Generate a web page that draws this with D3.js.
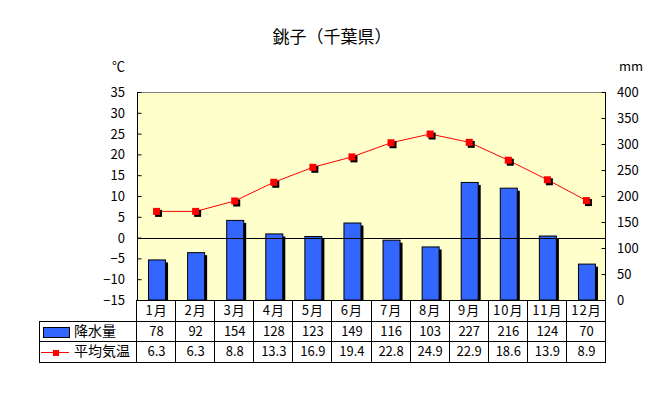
<!DOCTYPE html>
<html lang="ja">
<head>
<meta charset="utf-8" />
<script src="https://cdn.jsdelivr.net/npm/d3@7"></script>
<style>
  body { margin: 0; background: #fff; }
  svg { display: block; }
  text { font-family: "Noto Sans CJK JP", sans-serif; font-size: 13px; fill: #000; }
</style>
</head>
<body>
<script>
// data
var months = ["1月","2月","3月","4月","5月","6月","7月","8月","9月","10月","11月","12月"];
var rain = [78, 92, 154, 128, 123, 149, 116, 103, 227, 216, 124, 70];
var temp = [6.3, 6.3, 8.8, 13.3, 16.9, 19.4, 22.8, 24.9, 22.9, 18.6, 13.9, 8.9];
var tempTicks = [-15, -10, -5, 0, 5, 10, 15, 20, 25, 30, 35];
var rainTicks = [0, 50, 100, 150, 200, 250, 300, 350, 400];

var W = 658, H = 399;
var pL = 137, pR = 606, pT = 92, pB = 300;
var rowH = [21, 20, 21]; // category row, rain row, temp row
var legendLeft = 39;

var svg = d3.select("body").append("svg").attr("width", W).attr("height", H);

var x = d3.scaleBand().domain(months).range([pL, pR]);
var yT = d3.scaleLinear().domain([-15, 35]).range([pB, pT]);
var yR = d3.scaleLinear().domain([0, 400]).range([pB, pT]);

// plot background
svg.append("rect").attr("x", pL).attr("y", pT)
  .attr("width", pR - pL).attr("height", pB - pT).attr("fill", "#ffffcc");
svg.append("line").attr("x1", pL).attr("x2", pR).attr("y1", pT + 0.5).attr("y2", pT + 0.5)
  .attr("stroke", "#808080");

// axes, ticks inside
var axL = svg.append("g").attr("transform", "translate(" + (pL + 0.5) + ",0)")
  .call(d3.axisRight(yT).tickValues(tempTicks).tickSize(4).tickFormat(""));
axL.selectAll("path,line").attr("stroke", "#000");
axL.select(".domain").attr("d", "M0," + pT + "V" + pB);
var axR = svg.append("g").attr("transform", "translate(" + (pR - 0.5) + ",0)")
  .call(d3.axisLeft(yR).tickValues(rainTicks).tickSize(4).tickFormat(""));
axR.selectAll("path,line").attr("stroke", "#000");
axR.select(".domain").attr("d", "M0," + pT + "V" + pB);

svg.selectAll(".tl").data(tempTicks).enter().append("text")
  .attr("x", 125).attr("y", function (d) { return yT(d) + 5; })
  .attr("text-anchor", "end")
  .text(function (d) { return d < 0 ? "\u2212" + Math.abs(d) : d; });
svg.selectAll(".tr").data(rainTicks).enter().append("text")
  .attr("x", 617).attr("y", function (d) { return yR(d) + 5; })
  .text(function (d) { return d; });

svg.append("text").attr("x", 112).attr("y", 71).text("℃");
svg.append("text").attr("x", 619).attr("y", 71).text("mm");
svg.append("text").attr("x", 332).attr("y", 43).attr("text-anchor", "middle")
  .style("font-size", "17px").text("銚子（千葉県）");

// bars with shadow
var bw = 17;
svg.selectAll(".bs").data(rain).enter().append("rect")
  .attr("x", function (d, i) { return x(months[i]) + x.bandwidth() / 2 - bw / 2 + 3; })
  .attr("y", function (d) { return yR(d) + 3; })
  .attr("width", bw).attr("height", function (d) { return pB - yR(d) - 3; })
  .attr("fill", "#000");
svg.selectAll(".b").data(rain).enter().append("rect")
  .attr("x", function (d, i) { return x(months[i]) + x.bandwidth() / 2 - bw / 2 + 0.5; })
  .attr("y", function (d) { return yR(d) + 0.5; })
  .attr("width", bw).attr("height", function (d) { return pB - yR(d) - 0.5; })
  .attr("fill", "#3366ff").attr("stroke", "#000").attr("stroke-width", 1);

// zero line
svg.append("line").attr("x1", pL).attr("x2", pR)
  .attr("y1", Math.round(yT(0)) + 0.5).attr("y2", Math.round(yT(0)) + 0.5)
  .attr("stroke", "#000");

// temperature line
var line = d3.line()
  .x(function (d, i) { return x(months[i]) + x.bandwidth() / 2; })
  .y(function (d) { return yT(d); });
svg.append("path").datum(temp).attr("d", line)
  .attr("fill", "none").attr("stroke", "#ff0000").attr("stroke-width", 1);
var ms = 7;
svg.selectAll(".ms").data(temp).enter().append("rect")
  .attr("x", function (d, i) { return x(months[i]) + x.bandwidth() / 2 - ms / 2 + 2; })
  .attr("y", function (d) { return yT(d) - ms / 2 + 2; })
  .attr("width", ms).attr("height", ms).attr("fill", "#000");
svg.selectAll(".m").data(temp).enter().append("rect")
  .attr("x", function (d, i) { return x(months[i]) + x.bandwidth() / 2 - ms / 2; })
  .attr("y", function (d) { return yT(d) - ms / 2; })
  .attr("width", ms).attr("height", ms).attr("fill", "#ff0000");

// data table
var y0 = pB, y1 = y0 + rowH[0], y2 = y1 + rowH[1], y3 = y2 + rowH[2];
var tbl = svg.append("g").attr("stroke", "#000").attr("shape-rendering", "crispEdges");
tbl.append("line").attr("x1", pL).attr("x2", pR).attr("y1", y0 + 0.5).attr("y2", y0 + 0.5);
tbl.append("line").attr("x1", legendLeft).attr("x2", pR).attr("y1", y1 + 0.5).attr("y2", y1 + 0.5);
tbl.append("line").attr("x1", legendLeft).attr("x2", pR).attr("y1", y2 + 0.5).attr("y2", y2 + 0.5);
tbl.append("line").attr("x1", legendLeft).attr("x2", pR).attr("y1", y3 + 0.5).attr("y2", y3 + 0.5);
tbl.append("line").attr("x1", legendLeft + 0.5).attr("x2", legendLeft + 0.5).attr("y1", y1).attr("y2", y3 + 1);
var edges = months.map(function (m) { return x(m); }).concat([pR]);
tbl.selectAll(".v").data(edges).enter().append("line")
  .attr("x1", function (d) { return Math.round(d) - 0.5; })
  .attr("x2", function (d) { return Math.round(d) - 0.5; })
  .attr("y1", y0).attr("y2", y3 + 1);

function cx(i) { return x(months[i]) + x.bandwidth() / 2; }
svg.selectAll(".cm").data(months).enter().append("text")
  .attr("x", function (d, i) { return cx(i); }).attr("y", y0 + 15)
  .attr("text-anchor", "middle").style("letter-spacing", "1px").text(function (d) { return d; });
svg.selectAll(".cr").data(rain).enter().append("text")
  .attr("x", function (d, i) { return cx(i); }).attr("y", y1 + 15)
  .attr("text-anchor", "middle").text(function (d) { return d; });
svg.selectAll(".ct").data(temp).enter().append("text")
  .attr("x", function (d, i) { return cx(i); }).attr("y", y2 + 15)
  .attr("text-anchor", "middle").text(function (d) { return d.toFixed(1); });

// legend
svg.append("rect").attr("x", 43.5).attr("y", y1 + 6.5).attr("width", 26).attr("height", 10)
  .attr("fill", "#3366ff").attr("stroke", "#000");
svg.append("text").attr("x", 74).attr("y", y1 + 15).style("font-size", "14px").text("降水量");
svg.append("line").attr("x1", 41).attr("x2", 69).attr("y1", y2 + 11.5).attr("y2", y2 + 11.5)
  .attr("stroke", "#ff0000");
svg.append("rect").attr("x", 53).attr("y", y2 + 9).attr("width", 6).attr("height", 6).attr("fill", "#ff0000");
svg.append("text").attr("x", 74).attr("y", y2 + 15).style("font-size", "14px").text("平均気温");
</script>
</body>
</html>
